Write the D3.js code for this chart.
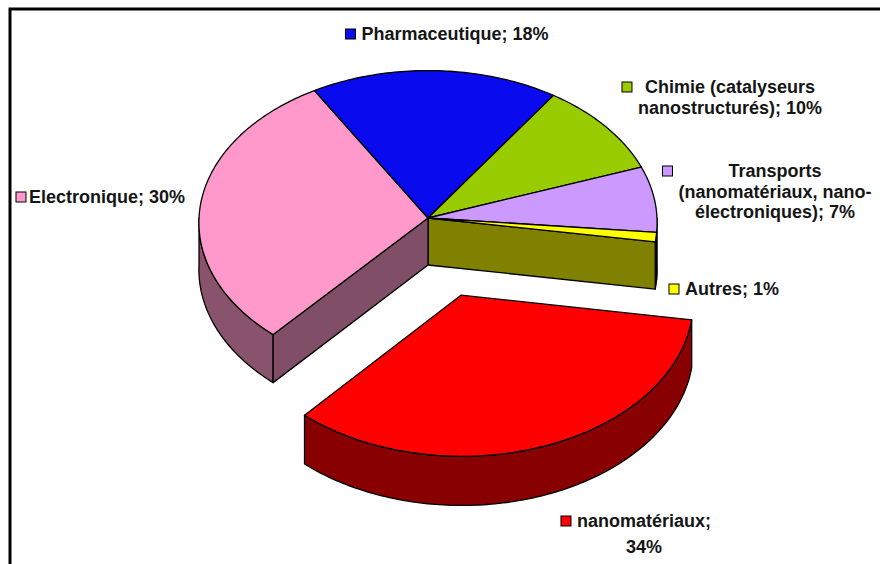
<!DOCTYPE html>
<html>
<head>
<meta charset="utf-8">
<script src="https://cdn.jsdelivr.net/npm/d3@7"></script>
<style>
  body { margin: 0; background: #fff; }
  .sliceEdge { stroke: #000; stroke-width: 1.3; stroke-linejoin: round; }
  .labelText { font-family: "Liberation Sans", Arial, sans-serif; font-weight: bold; font-size: 18px; fill: #151515; }
</style>
</head>
<body>
<div id="chartContainer"></div>
<script>
// data, in the order Excel drew the slices (clockwise)
const categories = ['nanomatériaux', 'Electronique', 'Pharmaceutique', 'Chimie (catalyseurs nanostructurés)', 'Transports (nanomatériaux, nano-électroniques)', 'Autres'];
const values = [34, 30, 18, 10, 7, 1];
const colors = ['#ff0000', '#ff99cc', '#0a0aee', '#99cc00', '#cc99ff', '#ffff00'];
const explode = [0.52, 0, 0, 0, 0, 0];
const labelLines = [
  ['nanomatériaux;', '34%'],
  ['Electronique; 30%'],
  ['Pharmaceutique; 18%'],
  ['Chimie (catalyseurs', 'nanostructurés); 10%'],
  ['Transports', '(nanomatériaux, nano-', 'électroniques); 7%'],
  ['Autres; 1%']
];

function renderPie3d () {
  const width = 880;
  const height = 564;
  const cx = 428;
  const cy = 218;
  const rx = 229;
  const ry = 152;
  const depth = 47;
  const persp = 0.03; // a little perspective: nearer parts look bigger
  const startDeg = 99;
  const explodeBias = 4 * Math.PI / 180;

  const svg = d3.select('#chartContainer').append('svg')
    .attr('width', width)
    .attr('height', height);

  // frame
  svg.append('rect')
    .attr('x', 10)
    .attr('y', 9)
    .attr('width', 1000)
    .attr('height', 1000)
    .attr('fill', 'none')
    .attr('stroke', '#000')
    .attr('stroke-width', 3);

  const start = startDeg * Math.PI / 180;
  const arcs = d3.pie().sort(null).startAngle(start).endAngle(start + 2 * Math.PI)(values);

  // x, z in unit-radius space (z grows toward the viewer), h = 0 top / 1 bottom
  const proj = (x, z, h) => {
    const pf = 1 + persp * z;
    return [cx + rx * x * pf, cy + ry * z * pf + depth * h * pf];
  };

  const slices = arcs.map((a, i) => {
    const mid = (a.startAngle + a.endAngle) / 2 + (explode[i] ? explodeBias : 0);
    return {
      i,
      a0: a.startAngle,
      a1: a.endAngle,
      color: colors[i],
      ox: explode[i] * Math.sin(mid),
      oz: -explode[i] * Math.cos(mid)
    };
  });

  const rim = (s, a, h) => proj(s.ox + Math.sin(a), s.oz - Math.cos(a), h);
  const apex = (s, h) => proj(s.ox, s.oz, h);
  const steps = (a0, a1) => d3.range(0, 1.0001, 1 / Math.max(2, Math.ceil((a1 - a0) * 60))).map(t => a0 + (a1 - a0) * t);
  const line = d3.line();

  const topPath = (s) => line([apex(s, 0), ...steps(s.a0, s.a1).map(a => rim(s, a, 0))]) + 'Z';
  const wallPath = (s, lo, hi) => {
    const pts = steps(lo, hi);
    return line([...pts.map(a => rim(s, a, 0)), ...pts.reverse().map(a => rim(s, a, 1))]) + 'Z';
  };
  const facePath = (s, a) => line([apex(s, 0), rim(s, a, 0), rim(s, a, 1), apex(s, 1)]) + 'Z';

  // visible parts of the outer wall (front half of the ellipse)
  const wallSpans = (s) => {
    const spans = [];
    [Math.PI / 2, Math.PI / 2 + 2 * Math.PI].forEach(w0 => {
      const lo = Math.max(s.a0, w0);
      const hi = Math.min(s.a1, w0 + Math.PI);
      if (hi > lo) spans.push([lo, hi]);
    });
    return spans;
  };

  // radial faces uncovered by an exploded slice
  const faces = [];
  slices.forEach((s, k) => {
    if (!explode[k]) return;
    const prev = slices[(k - 1 + slices.length) % slices.length];
    const next = slices[(k + 1) % slices.length];
    faces.push({s: prev, a: s.a0, end: true});
    faces.push({s: next, a: s.a1, end: false});
    faces.push({s, a: s.a0, end: false});
    faces.push({s, a: s.a1, end: true});
  });
  const faceVisible = f => f.end ? Math.sin(f.a) > 0 : Math.sin(f.a) < 0;

  const drawGroup = (group, list) => {
    const g = svg.append('g').attr('class', group);
    list.forEach(s => {
      wallSpans(s).forEach(([lo, hi]) => {
        g.append('path')
          .attr('class', 'sliceEdge')
          .attr('d', wallPath(s, lo, hi))
          .attr('fill', d3.color(s.color).darker(1.75));
      });
    });
    faces.filter(f => list.includes(f.s) && faceVisible(f)).forEach(f => {
      g.append('path')
        .attr('class', 'sliceEdge')
        .attr('d', facePath(f.s, f.a))
        .attr('fill', d3.color(f.s.color).darker(1.9));
    });
    g.selectAll('.sliceTop')
      .data(list)
      .enter()
      .append('path')
      .attr('class', 'sliceTop sliceEdge')
      .attr('d', topPath)
      .attr('fill', d => d.color);
  };

  drawGroup('mainPie', slices.filter(s => !explode[s.i]));
  slices.filter(s => explode[s.i]).forEach(s => drawGroup('explodedSlice', [s]));

  // labels: block centre x, first baseline y
  const labelPos = [
    {x: 644, y: 527, lh: 26},
    {x: 107, y: 203, lh: 20.5},
    {x: 455, y: 40, lh: 20.5},
    {x: 730, y: 93, lh: 20.5},
    {x: 775, y: 177, lh: 20.5},
    {x: 732, y: 295, lh: 20.5}
  ];
  const markerSize = 10;

  labelLines.forEach((lines, i) => {
    const pos = labelPos[i];
    const g = svg.append('g').attr('class', 'labelGroup');
    let widest = 0;
    lines.forEach((txt, j) => {
      const t = g.append('text')
        .attr('class', 'labelText')
        .attr('x', pos.x)
        .attr('y', pos.y + j * pos.lh)
        .attr('text-anchor', 'middle')
        .text(txt);
      widest = Math.max(widest, t.node().getComputedTextLength());
    });
    g.append('rect')
      .attr('x', pos.x - widest / 2 - (i === 1 ? 3 : 6) - markerSize)
      .attr('y', pos.y - 11)
      .attr('width', markerSize)
      .attr('height', markerSize)
      .attr('fill', colors[i])
      .attr('stroke', '#000')
      .attr('stroke-width', 1);
  });
}
renderPie3d();
</script>
</body>
</html>
